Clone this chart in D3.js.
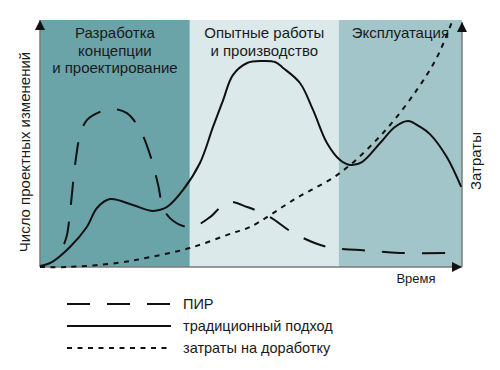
<!DOCTYPE html>
<html>
<head>
<meta charset="utf-8">
<script src="https://cdn.jsdelivr.net/npm/d3@7"></script>
<style>
  body { margin: 0; background: #fff; }
</style>
</head>
<body>
<script>
// phases along the time axis (0..100)
var phases = [
  { name: ["Разработка", "концепции", "и проектирование"], from: 0, to: 35.5, color: "#6aa3a8" },
  { name: ["Опытные работы", "и производство"], from: 35.5, to: 70.8, color: "#dce9ea" },
  { name: ["Эксплуатация"], from: 70.8, to: 100, color: "#a2c5c9" }
];

// традиционный подход
var traditional = [
  [0, 0.4], [2.8, 2], [7.1, 8.1], [11.1, 16.2], [13.5, 23.9], [16.6, 27.5], [22, 25.1],
  [26.8, 22.7], [30.1, 24.3], [33.9, 31.2], [37.9, 42.1], [41, 56.7], [43.4, 67.6],
  [45.7, 77.7], [49.1, 82.6], [52.6, 83.4], [55.7, 83], [57.6, 80.6], [61.6, 74.5],
  [64.7, 63.6], [68, 50.2], [71.1, 43.3], [73.5, 41.3], [76.3, 42.5], [80.6, 50.2],
  [84.1, 56.7], [87.2, 59.1], [90, 56.8], [92.4, 53.8], [96.4, 44.5], [99.8, 32.4]
];

// ПИР
var pir = [
  [5.7, 9.3], [6.4, 13], [7.3, 25.1], [8.3, 41.3], [9.5, 53.4], [11.1, 59.5], [14.2, 62.8],
  [17.1, 64], [20.6, 62.3], [23.7, 55.5], [26.1, 45.3], [28, 33.2], [29.1, 24.3],
  [30.8, 19.8], [33.9, 16.6], [36.3, 16.2], [40.3, 20.2], [44.5, 26.3], [49.1, 24.3],
  [54.5, 20.2], [60, 13.8], [68, 8.1], [75.8, 6.9], [85.3, 5.7], [98.8, 5.7]
];

// затраты на доработку
var rework = [
  [0, 0], [6.4, 0], [18.2, 1.6], [26.1, 4], [35.5, 7.7], [45.7, 13.8], [49.8, 16.2],
  [60.4, 27.5], [71.1, 38.1], [81.3, 54.3], [89.3, 71.7], [94.1, 85], [97.6, 99.2]
];

var legendItems = [
  { label: "ПИР", dash: "23,17", data: pir },
  { label: "традиционный подход", dash: null, data: traditional },
  { label: "затраты на доработку", dash: "5,5.5", data: rework }
];

var width = 500, height = 370;
var x0 = 40, x1 = 462, yTop = 20, yBottom = 267;

var x = d3.scaleLinear().domain([0, 100]).range([x0, x1]);
var y = d3.scaleLinear().domain([0, 100]).range([yBottom, yTop]);

var svg = d3.select("body").append("svg")
    .attr("width", width)
    .attr("height", height)
    .attr("font-family", "Liberation Sans, Arial, sans-serif");

var defs = svg.append("defs");
defs.append("marker")
    .attr("id", "arrow")
    .attr("viewBox", "0 0 10 10")
    .attr("refX", 10).attr("refY", 5)
    .attr("markerUnits", "userSpaceOnUse")
    .attr("markerWidth", 10).attr("markerHeight", 10)
    .attr("orient", "auto")
  .append("path")
    .attr("d", "M0,0L10,5L0,10Z")
    .attr("fill", "#111");

// phase bands
svg.selectAll("rect.phase")
    .data(phases)
  .enter().append("rect")
    .attr("class", "phase")
    .attr("x", function(d) { return x(d.from); })
    .attr("width", function(d) { return x(d.to) - x(d.from); })
    .attr("y", yTop)
    .attr("height", yBottom - yTop)
    .attr("fill", function(d) { return d.color; });

phases.forEach(function(p) {
  var cx = (x(p.from) + x(p.to)) / 2;
  var t = svg.append("text")
      .attr("text-anchor", "middle")
      .attr("fill", "#1a1a1a")
      .style("font-size", "15px");
  p.name.forEach(function(line, j) {
    t.append("tspan")
      .attr("x", cx)
      .attr("y", 38 + j * 17.5)
      .text(line);
  });
});

// axes
svg.append("line")
    .attr("x1", x0).attr("x2", x0)
    .attr("y1", yBottom).attr("y2", yTop)
    .attr("stroke", "#7a7a7a").attr("stroke-width", 1.5)
    .attr("marker-end", "url(#arrow)");
svg.append("line")
    .attr("x1", x0).attr("x2", x1)
    .attr("y1", yBottom).attr("y2", yBottom)
    .attr("stroke", "#7a7a7a").attr("stroke-width", 1.5)
    .attr("marker-end", "url(#arrow)");
svg.append("line")
    .attr("x1", x1).attr("x2", x1)
    .attr("y1", yBottom).attr("y2", yTop + 2)
    .attr("stroke", "#7a7a7a").attr("stroke-width", 1.5)
    .attr("marker-end", "url(#arrow)");

var line = d3.line()
    .x(function(d) { return x(d[0]); })
    .y(function(d) { return y(d[1]); })
    .curve(d3.curveCatmullRom.alpha(0.5));

legendItems.forEach(function(s) {
  svg.append("path")
      .attr("d", line(s.data))
      .attr("fill", "none")
      .attr("stroke", "#111")
      .attr("stroke-width", 2)
      .attr("stroke-dasharray", s.dash);
});

// axis titles
svg.append("text")
    .attr("transform", "translate(30,152) rotate(-90)")
    .attr("text-anchor", "middle")
    .attr("fill", "#1a1a1a")
    .style("font-size", "15px")
    .text("Число проектных изменений");
svg.append("text")
    .attr("transform", "translate(481,161) rotate(-90)")
    .attr("text-anchor", "middle")
    .attr("fill", "#1a1a1a")
    .style("font-size", "15px")
    .text("Затраты");
svg.append("text")
    .attr("x", 416).attr("y", 283)
    .attr("text-anchor", "middle")
    .attr("fill", "#1a1a1a")
    .style("font-size", "13px")
    .text("Время");

// legend
var legend = svg.selectAll("g.legend")
    .data(legendItems)
  .enter().append("g")
    .attr("class", "legend")
    .attr("transform", function(d, i) { return "translate(67," + (304 + i * 22) + ")"; });

legend.append("line")
    .attr("x1", 0).attr("x2", 104)
    .attr("stroke", "#111")
    .attr("stroke-width", 2)
    .attr("stroke-dasharray", function(d) { return d.dash; });

legend.append("text")
    .attr("x", 116)
    .attr("y", 5)
    .attr("fill", "#1a1a1a")
    .style("font-size", "14.5px")
    .text(function(d) { return d.label; });
</script>
</body>
</html>
